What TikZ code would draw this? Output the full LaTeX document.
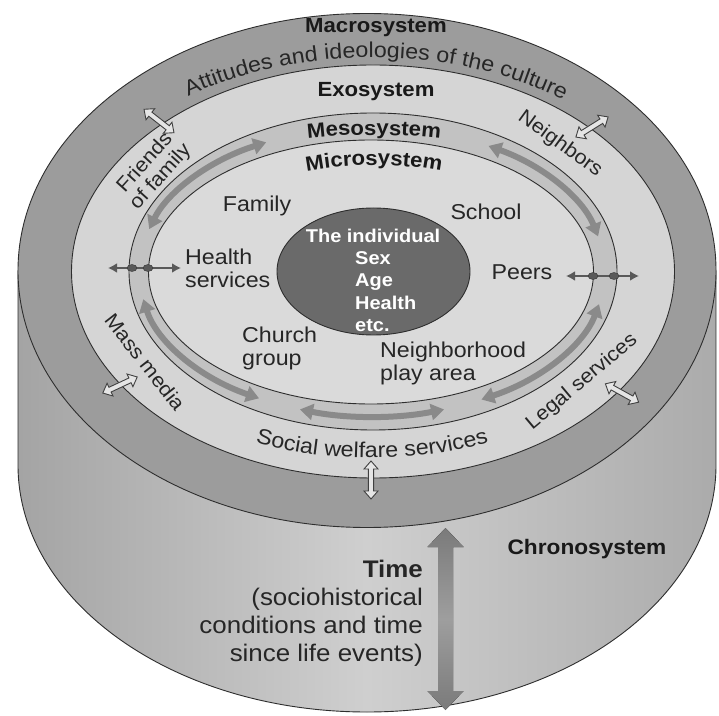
\documentclass[tikz,border=0pt]{standalone}
\usepackage{fontspec}
\setmainfont{Liberation Sans}[FakeStretch=1.08]
\usetikzlibrary{arrows.meta,decorations.text,calc,shapes.geometric}
\definecolor{macro}{HTML}{9C9C9C}
\definecolor{exo}{HTML}{D5D5D5}
\definecolor{meso}{HTML}{C2C2C2}
\definecolor{micro}{HTML}{DADADA}
\definecolor{indiv}{HTML}{6A6A6A}
\definecolor{cylL}{HTML}{A4A4A4}
\definecolor{cylM}{HTML}{CFCFCF}
\definecolor{cylR}{HTML}{ABABAB}
\definecolor{marrow}{HTML}{8A8A8A}
\definecolor{edge}{HTML}{2E2E2E}
\tikzset{
  hollow/.pic={\draw[fill=white!90!black, draw=black!75, line width=0.9pt]
    (-19,0) -- (-11,7) -- (-11,2.6) -- (11,2.6) -- (11,7) -- (19,0) -- (11,-7) -- (11,-2.6) -- (-11,-2.6) -- (-11,-7) -- cycle;}
}
\begin{document}
\begin{tikzpicture}[x=1pt,y=1pt,
  ring/.style={draw=edge, line width=0.9pt},
  lbl/.style={font=\fontsize{21.5}{23}\selectfont, text=black!85, inner sep=0pt},
  exolbl/.style={font=\fontsize{20}{21}\selectfont, text=black!85, inner sep=0pt},
  head/.style={font=\bfseries\fontsize{20.5}{22}\selectfont, text=black!90, inner sep=0pt},
  indtxt/.style={font=\bfseries\fontsize{18.5}{22.5}\selectfont, text=white, inner sep=0pt},
  mesoarrow/.style={draw=marrow, line width=6pt, {Triangle[width=16pt,length=13pt]}-{Triangle[width=16pt,length=13pt]}},
  beadarrow/.style={draw=black!65, line width=2.2pt, {Latex[width=10pt,length=9pt]}-{Latex[width=10pt,length=9pt]}},
  bead/.style={fill=black!65, draw=black!80, line width=0.4pt}
]
\fill[white] (0,0) rectangle (719,715);
\useasboundingbox (0,0) rectangle (719,715);

% cylinder body
\path[left color=cylL, right color=cylR, middle color=cylM]
  (18,444.5) -- (18,250) arc[start angle=180, end angle=360, x radius=349pt, y radius=247pt] -- (716,444.5) -- cycle;
\draw[ring] (18,444.5) -- (18,250) arc[start angle=180, end angle=360, x radius=349pt, y radius=247pt] -- (716,444.5);

% top face rings
\coordinate (M) at (372,443.5);
\draw[ring, fill=macro] (367,444.5) ellipse [x radius=349pt, y radius=257pt];
\draw[ring, fill=exo] (373,443.5) ellipse [x radius=301.5pt, y radius=206.5pt];
\draw[ring, fill=meso] (373,443.5) ellipse [x radius=244pt, y radius=158.5pt];
\draw[ring, fill=micro] (371,443) ellipse [x radius=222.5pt, y radius=132pt];
\node[ellipse, draw=edge, line width=0.9pt, fill=indiv, minimum width=193pt, minimum height=127pt, inner sep=0pt] (indiv) at (373.5,443.5) {};

% mesosystem arrows
\draw[mesoarrow] ($(M)+(163:233pt and 145pt)$) arc[start angle=163, end angle=117, x radius=233pt, y radius=145pt];
\draw[mesoarrow] ($(M)+(60:233pt and 145pt)$) arc[start angle=60, end angle=14, x radius=233pt, y radius=145pt];
\draw[mesoarrow] ($(M)+(191:233pt and 145pt)$) arc[start angle=191, end angle=241, x radius=233pt, y radius=145pt];
\draw[mesoarrow] ($(M)+(252:233pt and 145pt)$) arc[start angle=252, end angle=288, x radius=233pt, y radius=145pt];
\draw[mesoarrow] ($(M)+(298:233pt and 145pt)$) arc[start angle=298, end angle=347, x radius=233pt, y radius=145pt];

% exosystem hollow arrows
\pic[rotate=-38] at (159,594) {hollow};
\pic[rotate=32] at (592,588) {hollow};
\pic[rotate=25] at (120,330) {hollow};
\pic[rotate=-29] at (622,322) {hollow};
\pic[rotate=90] at (371,235) {hollow};

% bead arrows
\coordinate (hl) at (108,447); \coordinate (hr) at (181,447);
\draw[beadarrow] (hl) -- (hr);
\draw[bead] (132,447) ellipse [x radius=5pt, y radius=3.5pt];
\draw[bead] (148,447) ellipse [x radius=5pt, y radius=3.5pt];
\coordinate (pl) at (566,439); \coordinate (pr) at (639,439);
\draw[beadarrow] (pl) -- (pr);
\draw[bead] (593,439) ellipse [x radius=5pt, y radius=3.5pt];
\draw[bead] (614,439) ellipse [x radius=5pt, y radius=3.5pt];

% time arrow
\fill[top color=black!52, bottom color=black!52, middle color=black!38]
  (445.5,187) -- (463.5,168) -- (453,168) -- (453,24) -- (463.5,24) -- (445.5,5)
  -- (427.5,24) -- (438,24) -- (438,168) -- (427.5,168) -- cycle;

% headings
\node[head] (macroT) at (376,687) {Macrosystem};
\path[decorate, decoration={text along path, text align=center, text color=black!85,
  text={|\fontsize{21.5}{22}\selectfont|Attitudes and ideologies of the culture}}]
  ($(M)+(150:320pt and 214pt)$) arc[start angle=150, end angle=28, x radius=320pt, y radius=214pt];
\node[head] (exoT) at (376,623) {Exosystem};
\path[decorate, decoration={text along path, text align=center, text color=black!90,
  text={|\bfseries\fontsize{20.5}{22}\selectfont|Mesosystem}}]
  ($(374,443.5)+(120:290pt and 136.5pt)$) arc[start angle=120, end angle=60, x radius=290pt, y radius=136.5pt];
\path[decorate, decoration={text along path, text align=center, text color=black!90,
  text={|\bfseries\fontsize{20.5}{22}\selectfont|Microsystem}}]
  ($(374,443.5)+(135:200pt and 106.5pt)$) arc[start angle=135, end angle=45, x radius=200pt, y radius=106.5pt];
\path[decorate, decoration={text along path, text align=center, text color=black!85,
  text={|\fontsize{21.5}{22}\selectfont|Social welfare services}}]
  ($(M)+(230:290pt and 186.5pt)$) arc[start angle=230, end angle=310, x radius=290pt, y radius=186.5pt];
\node[head, font=\bfseries\fontsize{21}{22}\selectfont] (chrono) at (587,166) {Chronosystem};

% exosystem labels
\node[exolbl, rotate=48, align=center] (friends) at (153,545) {Friends\\of family};
\node[exolbl, rotate=-36] (neigh) at (560,571) {Neighbors};
\node[exolbl, rotate=-52] (mass) at (145,353) {Mass media};
\node[exolbl, rotate=40] (legal) at (582,333) {Legal services};

% microsystem labels
\node[lbl] (family) at (257,509) {Family};
\node[lbl] (school) at (486,503) {School};
\node[lbl, anchor=west, align=left] (health) at (185,447) {Health\\services};
\node[lbl] (peers) at (522,443) {Peers};
\node[lbl, anchor=west, align=left] (church) at (242,367) {Church\\group};
\node[lbl, anchor=west, align=left] (nbh) at (380,352) {Neighborhood\\play area};

% individual
\node[indtxt] (indT) at (373,479) {The individual};
\node[indtxt, anchor=west, align=left] (indL) at (355,423.5) {Sex\\Age\\Health\\etc.};

% time text
\node[anchor=east, align=right, inner sep=0pt, text=black!85, font=\fontsize{24}{28}\selectfont] (time) at (423,102)
  {\textbf{Time}\\(sociohistorical\\conditions and time\\since life events)};
\end{tikzpicture}
\end{document}
